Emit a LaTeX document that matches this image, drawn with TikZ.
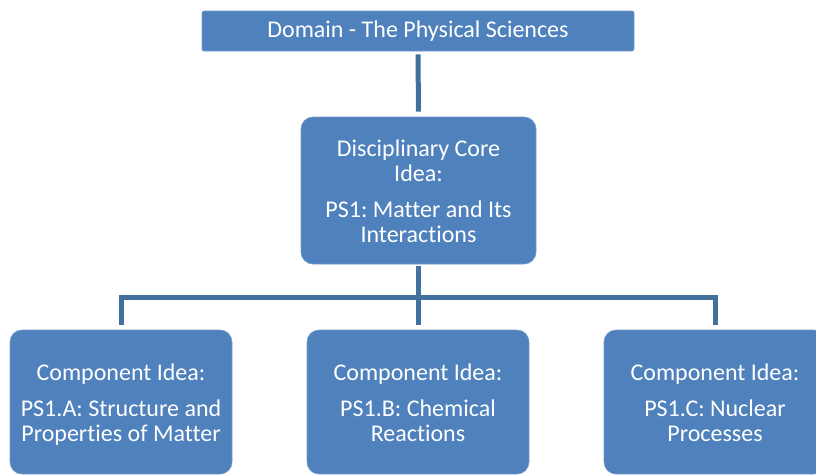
\documentclass[tikz,border=0pt]{standalone}
\usepackage{fontspec}
\setmainfont{Carlito}[Ligatures={NoCommon}]
\frenchspacing
\newcommand{\topstrut}{\rule{0pt}{21pt}}
\newcommand{\botstrut}{\rule[-4pt]{0pt}{4pt}}
\begin{document}
\begin{tikzpicture}[x=1pt,y=-1pt,
  box/.style={fill=boxblue, draw=boxblue!80!white, line width=0.6pt, text=white, align=center, inner sep=0pt, font=\fontsize{24}{25}\selectfont},
  link/.style={draw=lineblue, line width=5pt}]
\definecolor{boxblue}{HTML}{4F81BD}
\definecolor{lineblue}{HTML}{41719C}
\useasboundingbox (0,0) rectangle (816,474);
\clip (0,0) rectangle (816,474);
\node[box, rounded corners=2pt, minimum width=432, minimum height=40] (top) at (418,31) {Domain - The Physical Sciences};
\node[box, rounded corners=12pt, minimum width=235, minimum height=147] (core) at (418.5,190.5) {\topstrut Disciplinary Core\\Idea:\\[11pt]PS1: Matter and Its\\Interactions\botstrut};
\node[box, rounded corners=12pt, minimum width=222, minimum height=144] (a) at (121,402) {\topstrut Component Idea:\\[11pt]PS1.A: Structure and\\Properties of Matter\botstrut};
\node[box, rounded corners=12pt, minimum width=222, minimum height=144] (b) at (418,402) {\topstrut Component Idea:\\[11pt]PS1.B: Chemical\\Reactions\botstrut};
\node[box, rounded corners=12pt, minimum width=222, minimum height=144] (c) at (715,402) {\topstrut Component Idea:\\[11pt]PS1.C: Nuclear\\Processes\botstrut};
\coordinate (bar) at (0,297);
\draw[link] ([yshift=-3]top.south) -- ([yshift=5]core.north);
\draw[link] ([yshift=-2]core.south) -- (core.south |- bar);
\draw[link, line join=miter] ([yshift=5]a.north) -- (a.north |- bar) -- (c.north |- bar) -- ([yshift=5]c.north);
\draw[link] (b.north |- bar) -- ([yshift=5]b.north);
\end{tikzpicture}
\end{document}
